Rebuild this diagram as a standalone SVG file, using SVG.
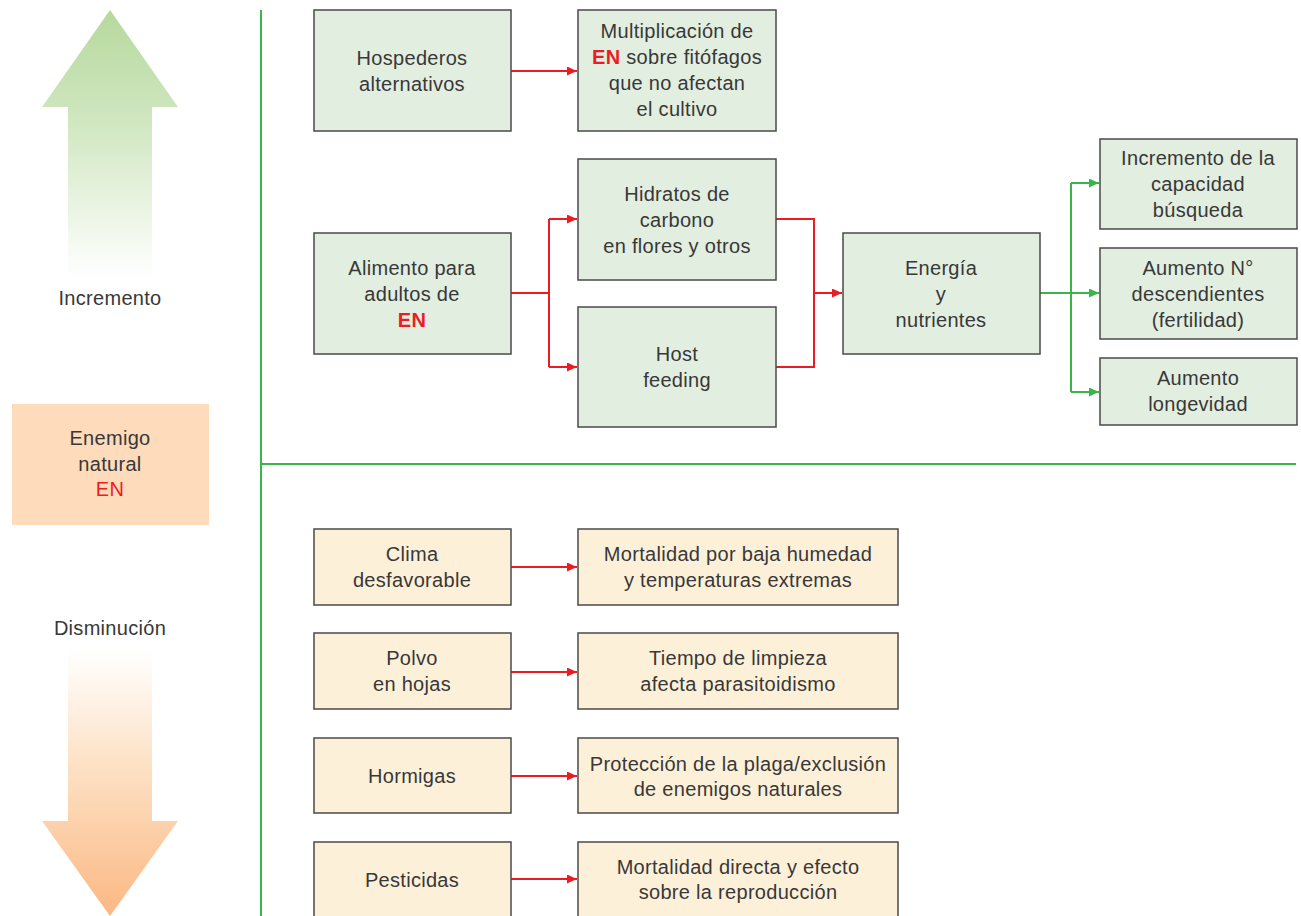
<svg xmlns="http://www.w3.org/2000/svg" width="1301" height="916" viewBox="0 0 1301 916">
<defs>
<linearGradient id="gUp" x1="0" y1="10" x2="0" y2="278" gradientUnits="userSpaceOnUse">
<stop offset="0" stop-color="#b6d99d"/>
<stop offset="0.4" stop-color="#cfe6bf"/>
<stop offset="1" stop-color="#ffffff"/>
</linearGradient>
<linearGradient id="gDown" x1="0" y1="650" x2="0" y2="916" gradientUnits="userSpaceOnUse">
<stop offset="0" stop-color="#ffffff"/>
<stop offset="0.45" stop-color="#fde0c3"/>
<stop offset="1" stop-color="#fbb883"/>
</linearGradient>
<marker id="aR" markerUnits="userSpaceOnUse" markerWidth="11" markerHeight="10" refX="10" refY="4.5" orient="auto">
<path d="M0,0 L10,4.5 L0,9 z" fill="#ed1c24"/>
</marker>
<marker id="aG" markerUnits="userSpaceOnUse" markerWidth="11" markerHeight="10" refX="10" refY="4.5" orient="auto">
<path d="M0,0 L10,4.5 L0,9 z" fill="#39b54a"/>
</marker>
<style>
.bg{fill:#e2eee0;stroke:#4a4a4a;stroke-width:1.5}
.bb{fill:#fdf0d9;stroke:#4a4a4a;stroke-width:1.5}
text{font-family:"Liberation Sans",Arial,sans-serif;font-size:20px;fill:#383838;text-anchor:middle;letter-spacing:0.3px}
.en{fill:#ed1c24;font-weight:bold}
.r{fill:none;stroke:#ed1c24;stroke-width:2}
.g{fill:none;stroke:#39b54a;stroke-width:2}
</style>
</defs>

<g id="arrow-up">
<polygon points="110,10 178,107 152,107 152,278 68,278 68,107 42,107" fill="url(#gUp)"/>
<text x="110" y="305">Incremento</text>
</g>
<g id="enemigo">
<rect x="12" y="404" width="197" height="121" fill="#fddbbb"/>
<text x="110" y="445">Enemigo</text>
<text x="110" y="471">natural</text>
<text x="110" y="496" class="en" style="font-weight:normal">EN</text>
</g>
<g id="arrow-down">
<text x="110" y="635">Disminución</text>
<polygon points="68,650 152,650 152,821 178,821 110,916 42,821 68,821" fill="url(#gDown)"/>
</g>

<g id="dividers">
<line x1="261" y1="10" x2="261" y2="916" stroke="#39b54a" stroke-width="2"/>
<line x1="261" y1="464" x2="1296" y2="464" stroke="#39b54a" stroke-width="2"/>
</g>

<g id="connectors">
<path class="r" d="M511,71 H577" marker-end="url(#aR)"/>
<path class="r" d="M511,293 H549 M549,219 V367" />
<path class="r" d="M549,219 H577" marker-end="url(#aR)"/>
<path class="r" d="M549,367 H577" marker-end="url(#aR)"/>
<path class="r" d="M776,219 H814 V367 H776"/>
<path class="r" d="M814,293 H842" marker-end="url(#aR)"/>
<path class="g" d="M1040,293 H1099" marker-end="url(#aG)"/>
<path class="g" d="M1071,183 V392"/>
<path class="g" d="M1071,183 H1099" marker-end="url(#aG)"/>
<path class="g" d="M1071,392 H1099" marker-end="url(#aG)"/>
<path class="r" d="M511,567 H577" marker-end="url(#aR)"/>
<path class="r" d="M511,672 H577" marker-end="url(#aR)"/>
<path class="r" d="M511,776 H577" marker-end="url(#aR)"/>
<path class="r" d="M511,879 H577" marker-end="url(#aR)"/>
</g>

<g id="hospederos">
<rect class="bg" x="314" y="10" width="197" height="121"/>
<text x="412" y="65">Hospederos</text>
<text x="412" y="91">alternativos</text>
</g>
<g id="multiplicacion">
<rect class="bg" x="578" y="10" width="198" height="121"/>
<text x="677" y="38">Multiplicación de</text>
<text x="677" y="64"><tspan class="en">EN</tspan> sobre fitófagos</text>
<text x="677" y="90">que no afectan</text>
<text x="677" y="116">el cultivo</text>
</g>
<g id="alimento">
<rect class="bg" x="314" y="233" width="197" height="121"/>
<text x="412" y="275">Alimento para</text>
<text x="412" y="301">adultos de</text>
<text x="412" y="327" class="en">EN</text>
</g>
<g id="hidratos">
<rect class="bg" x="578" y="159" width="198" height="121"/>
<text x="677" y="201">Hidratos de</text>
<text x="677" y="227">carbono</text>
<text x="677" y="253">en flores y otros</text>
</g>
<g id="host">
<rect class="bg" x="578" y="307" width="198" height="120"/>
<text x="677" y="361">Host</text>
<text x="677" y="387">feeding</text>
</g>
<g id="energia">
<rect class="bg" x="843" y="233" width="197" height="121"/>
<text x="941" y="275">Energía</text>
<text x="941" y="301">y</text>
<text x="941" y="327">nutrientes</text>
</g>
<g id="capacidad">
<rect class="bg" x="1100" y="139" width="197" height="90"/>
<text x="1198" y="165">Incremento de la</text>
<text x="1198" y="191">capacidad</text>
<text x="1198" y="217">búsqueda</text>
</g>
<g id="descendientes">
<rect class="bg" x="1100" y="248" width="197" height="91"/>
<text x="1198" y="275">Aumento N°</text>
<text x="1198" y="301">descendientes</text>
<text x="1198" y="327">(fertilidad)</text>
</g>
<g id="longevidad">
<rect class="bg" x="1100" y="358" width="197" height="67"/>
<text x="1198" y="385">Aumento</text>
<text x="1198" y="411">longevidad</text>
</g>

<g id="clima">
<rect class="bb" x="314" y="529" width="197" height="76"/>
<text x="412" y="561">Clima</text>
<text x="412" y="587">desfavorable</text>
</g>
<g id="mortalidad-clima">
<rect class="bb" x="578" y="529" width="320" height="76"/>
<text x="738" y="561">Mortalidad por baja humedad</text>
<text x="738" y="587">y temperaturas extremas</text>
</g>
<g id="polvo">
<rect class="bb" x="314" y="633" width="197" height="76"/>
<text x="412" y="665">Polvo</text>
<text x="412" y="691">en hojas</text>
</g>
<g id="limpieza">
<rect class="bb" x="578" y="633" width="320" height="76"/>
<text x="738" y="665">Tiempo de limpieza</text>
<text x="738" y="691">afecta parasitoidismo</text>
</g>
<g id="hormigas">
<rect class="bb" x="314" y="738" width="197" height="75"/>
<text x="412" y="783">Hormigas</text>
</g>
<g id="proteccion">
<rect class="bb" x="578" y="738" width="320" height="75"/>
<text x="738" y="771">Protección de la plaga/exclusión</text>
<text x="738" y="796">de enemigos naturales</text>
</g>
<g id="pesticidas">
<rect class="bb" x="314" y="842" width="197" height="80"/>
<text x="412" y="887">Pesticidas</text>
</g>
<g id="mortalidad-directa">
<rect class="bb" x="578" y="842" width="320" height="80"/>
<text x="738" y="874">Mortalidad directa y efecto</text>
<text x="738" y="899">sobre la reproducción</text>
</g>
</svg>
